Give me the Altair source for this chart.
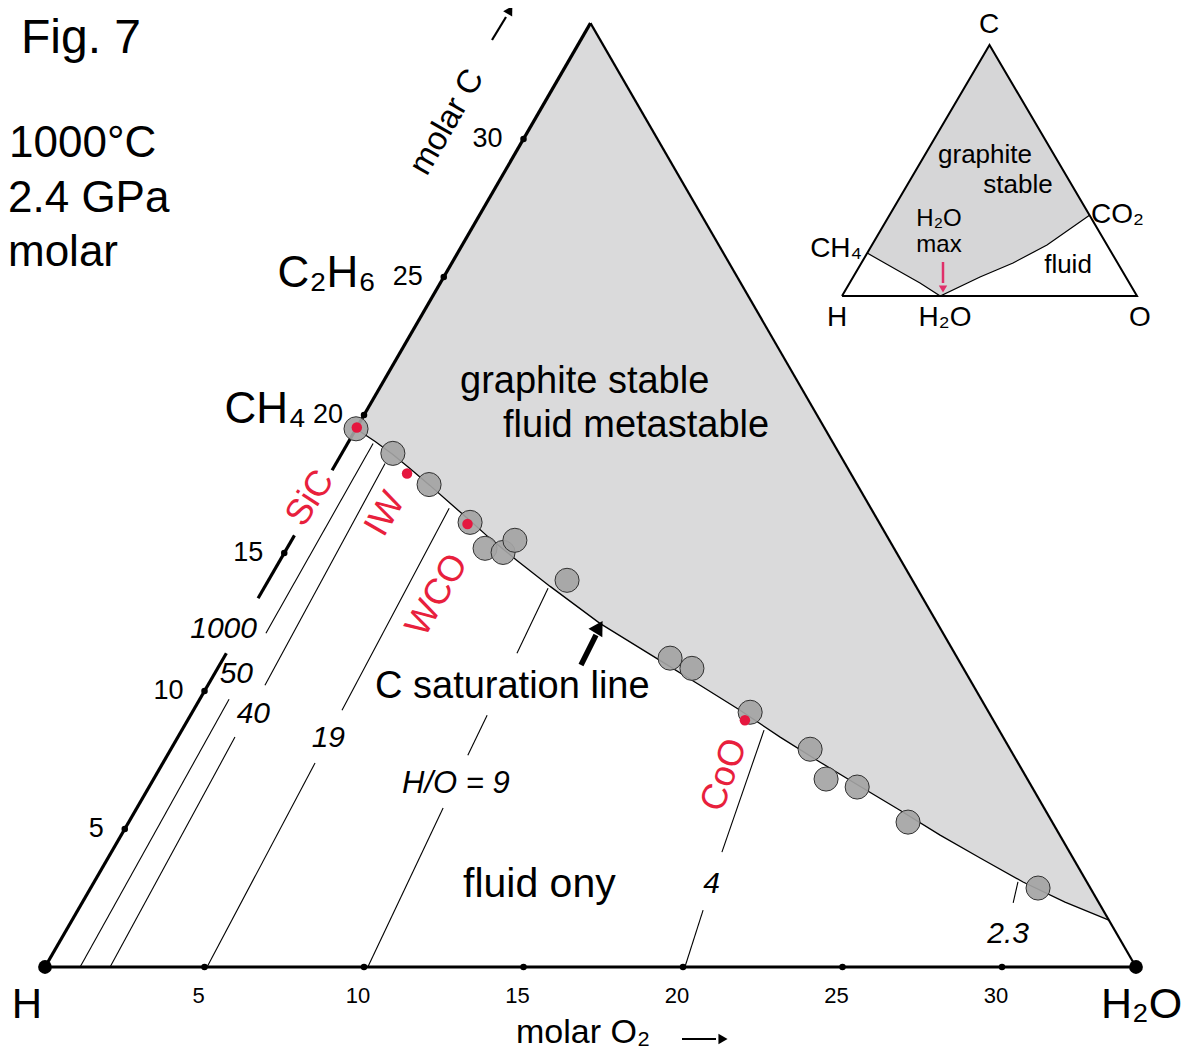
import altair as alt
import numpy as np
import pandas as pd

# ---------------- values ----------------
# Main diagram: composition in molar %: O2 (along H-H2O) and C (along H-C)
SIDE = 34.2
tick_values = [5, 10, 15, 20, 25, 30]

# C saturation line
sat_O = [0.0, 0.83, 1.62, 2.41, 3.34, 4.30, 5.23, 6.18, 7.43, 8.94, 11.17, 13.72,
         15.43, 17.14, 18.88, 20.59, 22.27, 23.96, 25.67, 27.34, 29.12, 30.80, 32.50]
sat_C = [19.5, 19.04, 18.57, 18.06, 17.45, 16.80, 16.18, 15.53, 14.73, 13.79, 12.45, 11.11,
         10.21, 9.30, 8.33, 7.42, 6.55, 5.68, 4.78, 3.95, 3.08, 2.35, 1.70]

# experimental fluid compositions (grey circles)
exp_O = [0.0, 1.60, 3.30, 5.27, 6.21, 6.85, 7.00, 9.36, 14.00, 14.87, 17.49, 20.04,
         21.08, 22.20, 24.43, 29.70]
exp_C = [19.5, 18.61, 17.48, 16.11, 15.17, 15.02, 15.46, 14.01, 11.19, 10.82, 9.23, 7.89,
         6.81, 6.52, 5.25, 2.86]

# buffer compositions (red dots)
buf_name = ["SiC", "IW", "WCO", "CoO"]
buf_O = [0.0, 2.41, 5.22, 17.47]
buf_C = [19.55, 17.88, 16.05, 8.94]

# H/O isopleth segments (start O, start C, end O, end C)
ho_line = ["50", "50", "40", "40", "19", "19", "9", "9", "9", "4", "4", "2.3"]
ho_O1 = [1.10, 0.88, 2.04, 1.79, 5.08, 4.66, 10.12, 9.42, 9.11, 20.06, 19.14, 29.19]
ho_C1 = [0.00, 12.09, 0.00, 10.21, 0.00, 9.30, 0.00, 7.67, 11.37, 0.00, 4.16, 2.32]
ho_O2 = [0.92, 0.80, 1.79, 1.54, 4.77, 4.36, 9.60, 9.30, 8.91, 19.60, 18.25, 28.96]
ho_C2 = [9.70, 18.97, 8.33, 18.24, 7.39, 16.62, 5.76, 9.12, 13.72, 2.06, 8.58, 3.08]

# drawn pieces of the H-C edge (gaps leave room for labels)
left_C1 = [0.0, 13.36, 18.0]
left_C2 = [11.37, 15.64, SIDE]

# Inset: full C-H-O ternary, atomic %
ins_sat_O = [0.0, 13.46, 23.85, 33.3, 43.0, 51.4, 59.33, 67.8]
ins_sat_C = [17.1, 10.36, 5.18, 0.0, 7.57, 13.15, 20.32, 32.2]

# ---------------- layout ----------------
FONT = "Liberation Sans"
W, H = 1178, 1043
HX, HY, KX, KY = 45.0, 967.0, 31.9, 27.6      # main triangle placement
IX, IY, IKX, IKY = 842.0, 296.0, 2.95, 2.51    # inset placement


def main_xy(O, C):
    O = np.asarray(O, float)
    C = np.asarray(C, float)
    return HX + KX * (O + C / 2.0), HY - KY * C


def inset_xy(O, C):
    O = np.asarray(O, float)
    C = np.asarray(C, float)
    return IX + IKX * (O + C / 2.0), IY - IKY * C


XS = alt.Scale(domain=[8, 8 + W], nice=False, zero=False)
YS = alt.Scale(domain=[8, 8 + H], reverse=True, nice=False, zero=False)
X = alt.X("x:Q", scale=XS, axis=None)
Y = alt.Y("y:Q", scale=YS, axis=None)


def seg_df(segs):
    rows = []
    for i, pts in enumerate(segs):
        for j, (x, y) in enumerate(pts):
            rows.append(dict(seg=i, o=j, x=float(x), y=float(y)))
    return pd.DataFrame(rows)


def lines(segs, **kw):
    return alt.Chart(seg_df(segs)).mark_line(**kw).encode(
        x=X, y=Y, detail="seg:N", order="o:Q")


def area_between(cx, cy, L, A, R, color):
    cx = np.asarray(cx)
    cy = np.asarray(cy)
    xs = np.sort(np.append(cx, A[0]))
    yb = np.interp(xs, cx, cy)
    left = L[1] + (xs - L[0]) * (A[1] - L[1]) / (A[0] - L[0])
    right = A[1] + (xs - A[0]) * (R[1] - A[1]) / (R[0] - A[0])
    yt = np.where(xs <= A[0], left, right)
    df = pd.DataFrame(dict(x=xs, y=yb, y2=yt))
    return alt.Chart(df).mark_area(color=color, orient="vertical", opacity=1).encode(
        x=X, y=Y, y2="y2:Q")


def texts(rows, baseline="alphabetic", **kw):
    df = pd.DataFrame(rows, columns=["t", "x", "y"])
    return alt.Chart(df).mark_text(font=FONT, baseline=baseline, **kw).encode(
        x=X, y=Y, text="t:N")


layers = []

# --- main triangle geometry
Hc = main_xy(0, 0)
Ac = main_xy(0, SIDE)
Wc = main_xy(SIDE, 0)
sx, sy = main_xy(sat_O, sat_C)
layers.append(area_between(sx, sy, Hc, Ac, Wc, "#dadadb"))

# --- inset geometry
iH = inset_xy(0, 0)
iC = inset_xy(0, 100)
iO = inset_xy(100, 0)
isx, isy = inset_xy(ins_sat_O, ins_sat_C)
layers.append(area_between(isx, isy, iH, iC, iO, "#d6d6d7"))

# --- H/O isopleths
ho_segs = []
for o1, c1, o2, c2 in zip(ho_O1, ho_C1, ho_O2, ho_C2):
    ho_segs.append([main_xy(o1, c1), main_xy(o2, c2)])
layers.append(lines(ho_segs, color="black", strokeWidth=1.1))

# --- saturation curves
layers.append(lines([list(zip(sx, sy))], color="black", strokeWidth=1.3))
layers.append(lines([list(zip(isx, isy))], color="black", strokeWidth=1.2))

# --- triangle edges
left_segs = [[main_xy(0, a), main_xy(0, b)] for a, b in zip(left_C1, left_C2)]
layers.append(lines(left_segs, color="black", strokeWidth=3.2))
layers.append(lines([[Hc, Wc]], color="black", strokeWidth=3.2))
layers.append(lines([[Ac, Wc]], color="black", strokeWidth=2.2))
layers.append(lines([[iH, iC, iO, iH]], color="black", strokeWidth=2.0))

# --- tick dots and corners
tb = [main_xy(t, 0) for t in tick_values]
tl = [main_xy(0, t) for t in tick_values]
tick_df = pd.DataFrame([dict(x=float(p[0]), y=float(p[1])) for p in tb + tl])
layers.append(alt.Chart(tick_df).mark_circle(color="black", size=42, opacity=1).encode(x=X, y=Y))
corner_df = pd.DataFrame([dict(x=float(Hc[0]), y=float(Hc[1])), dict(x=float(Wc[0]), y=float(Wc[1]))])
layers.append(alt.Chart(corner_df).mark_circle(color="black", size=190, opacity=1).encode(x=X, y=Y))

# --- experiments and buffers
ex, ey = main_xy(exp_O, exp_C)
layers.append(alt.Chart(pd.DataFrame(dict(x=ex, y=ey))).mark_point(
    shape="circle", filled=True, fill="#a4a4a4", stroke="#303030", strokeWidth=1,
    size=580, opacity=1, fillOpacity=0.92).encode(x=X, y=Y))
bx, by = main_xy(buf_O, buf_C)
layers.append(alt.Chart(pd.DataFrame(dict(x=bx, y=by, n=buf_name))).mark_circle(
    color="#e5173f", size=110, opacity=1).encode(x=X, y=Y))

# --- arrows
shafts = [
    [(581, 665), (596, 635)],
    [(492, 40), (506, 17)],
    [(682, 1039), (716, 1039)],
]
layers.append(lines(shafts[:1], color="black", strokeWidth=5.5))
layers.append(lines(shafts[1:], color="black", strokeWidth=2.2))
layers.append(lines([[(943, 262), (943, 283)]], color="#e0306a", strokeWidth=2.5))
heads = pd.DataFrame([
    dict(x=599, y=627, a=31, s=260, c="black"),
    dict(x=510, y=10, a=31, s=110, c="black"),
    dict(x=723, y=1039, a=90, s=110, c="black"),
    dict(x=943, y=289, a=180, s=70, c="#e0306a"),
])
layers.append(alt.Chart(heads).mark_point(shape="triangle-up", filled=True, opacity=1).encode(
    x=X, y=Y, angle=alt.Angle("a:Q", scale=None), size=alt.Size("s:Q", scale=None, legend=None),
    color=alt.Color("c:N", scale=None)))

# --- text
layers.append(texts([("Fig. 7", 21, 53)], fontSize=48, align="left"))
layers.append(texts([("1000°C", 9, 157), ("2.4 GPa", 8, 212), ("molar", 8, 266)],
                    fontSize=44, align="left"))
layers.append(texts([("C₂H₆", 376, 287), ("CH₄", 306, 423)], fontSize=44, align="right"))
layers.append(texts([("graphite stable", 460, 393), ("fluid metastable", 503, 437),
                     ("C saturation line", 375, 698)], fontSize=38, align="left"))
layers.append(texts([("fluid ony", 463, 897)], fontSize=41, align="left"))
layers.append(texts([("H", 27, 1018)], fontSize=42, align="center"))
layers.append(texts([("H₂O", 1101, 1018)], fontSize=43, align="left"))
layers.append(texts([("molar O₂", 516, 1043)], fontSize=34, align="left"))
layers.append(texts([("molar C", 447, 122)], fontSize=33, align="center", baseline="middle", angle=300))

left_lab = [(str(t), float(p[0]) - 21, float(p[1])) for t, p in zip(tick_values, tl)]
layers.append(texts(left_lab, fontSize=27, align="right", baseline="middle"))
bot_lab = [(str(t), float(p[0]) - 6, 1003) for t, p in zip(tick_values, tb)]
layers.append(texts(bot_lab, fontSize=22, align="center"))

layers.append(texts([("1000", 257, 638), ("50", 253, 683), ("40", 270, 723), ("19", 345, 747),
                     ("4", 720, 893), ("2.3", 1029, 943)],
                    fontSize=30, fontStyle="italic", align="right"))
layers.append(texts([("H/O = 9", 402, 793)], fontSize=31, fontStyle="italic", align="left"))

red_df = pd.DataFrame(dict(t=buf_name, x=[310, 385, 437, 724], y=[498, 514, 595, 775],
                           a=[303, 300, 300, 290]))
layers.append(alt.Chart(red_df).mark_text(font=FONT, fontSize=36, color="#e8203c",
                                          align="center", baseline="middle").encode(
    x=X, y=Y, text="t:N", angle=alt.Angle("a:Q", scale=None)))

# inset text
layers.append(texts([("C", 989, 33), ("H", 837, 326), ("H₂O", 945, 326), ("O", 1140, 326)],
                    fontSize=28, align="center"))
layers.append(texts([("graphite", 985, 163), ("stable", 1018, 193),
                     ("fluid", 1068, 273)], fontSize=26, align="center"))
layers.append(texts([("H₂O", 939, 226), ("max", 939, 252)], fontSize=24, align="center"))
layers.append(texts([("CH₄", 862, 257)], fontSize=28, align="right"))
layers.append(texts([("CO₂", 1091, 223)], fontSize=28, align="left"))

chart = alt.layer(*layers).properties(width=W, height=H, padding=0, autosize="none") \
    .configure_view(stroke=None)

chart.save("out.html", embed_options={"renderer": "svg", "actions": False})
